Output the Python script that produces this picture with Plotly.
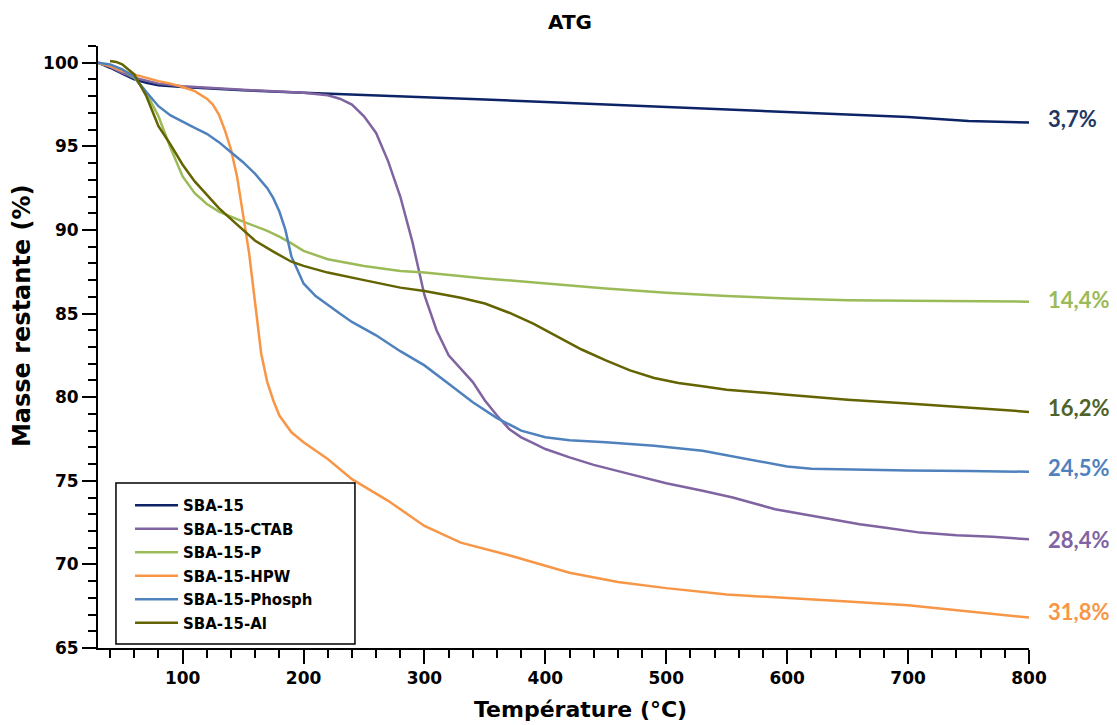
import plotly.graph_objects as go

# ---------------- data ----------------
names = ["SBA-15", "SBA-15-CTAB", "SBA-15-P", "SBA-15-HPW", "SBA-15-Phosph", "SBA-15-Al"]

t_sba15 = [30, 40, 50, 60, 70, 80, 100, 120, 150, 200, 250, 300, 350, 400, 450, 500, 550, 600, 650, 700, 750, 800]
m_sba15 = [100, 99.7, 99.35, 99.0, 98.8, 98.65, 98.55, 98.47, 98.35, 98.2, 98.08, 97.95, 97.8, 97.65, 97.5,
           97.33, 97.18, 97.05, 96.92, 96.75, 96.52, 96.42]

t_ctab = [30, 40, 50, 60, 80, 100, 150, 200, 220, 230, 240, 250, 260, 270, 280, 290, 300, 310, 320, 330, 340, 350,
          360, 370, 380, 390, 400, 420, 440, 470, 500, 530, 555, 590, 620, 660, 680, 710, 740, 770, 800]
m_ctab = [100, 99.75, 99.4, 99.1, 98.75, 98.6, 98.38, 98.2, 98.05, 97.85, 97.5, 96.8, 95.8, 94.1, 92.0, 89.3, 86.1,
          84.0, 82.5, 81.7, 80.9, 79.8, 78.9, 78.1, 77.6, 77.25, 76.9, 76.4, 75.95, 75.4, 74.85, 74.4, 74.0, 73.3,
          72.9, 72.4, 72.2, 71.9, 71.75, 71.65, 71.5]

t_p = [30, 40, 50, 60, 70, 80, 90, 100, 110, 120, 130, 150, 170, 180, 190, 200, 220, 250, 280, 300, 350, 400, 450,
       500, 550, 600, 650, 700, 750, 800]
m_p = [99.95, 99.85, 99.6, 99.1, 98.2, 96.8, 94.9, 93.2, 92.2, 91.55, 91.1, 90.5, 89.95, 89.6, 89.2, 88.75, 88.25,
       87.85, 87.55, 87.45, 87.1, 86.8, 86.5, 86.25, 86.05, 85.9, 85.8, 85.77, 85.73, 85.71]

t_hpw = [30, 40, 50, 60, 70, 80, 90, 100, 110, 120, 125, 130, 135, 140, 145, 150, 155, 160, 165, 170, 175, 180, 190,
         200, 220, 240, 270, 300, 330, 370, 420, 460, 500, 550, 600, 650, 700, 750, 800]
m_hpw = [100, 99.8, 99.5, 99.3, 99.1, 98.9, 98.75, 98.55, 98.3, 97.85, 97.5, 96.9, 95.95, 94.8, 93.2, 90.9, 88.6,
         85.6, 82.6, 80.9, 79.8, 78.9, 77.9, 77.3, 76.3, 75.1, 73.8, 72.3, 71.3, 70.55, 69.5, 68.95, 68.58, 68.2,
         68.0, 67.78, 67.55, 67.18, 66.82]

t_phosph = [30, 40, 50, 60, 70, 80, 90, 100, 110, 120, 130, 140, 150, 160, 170, 175, 180, 185, 190, 195, 200, 210,
            220, 230, 240, 260, 280, 300, 320, 340, 360, 380, 400, 420, 450, 490, 530, 560, 580, 600, 620, 660, 700,
            750, 800]
m_phosph = [100, 99.9, 99.6, 99.15, 98.25, 97.4, 96.85, 96.45, 96.1, 95.75, 95.25, 94.65, 94.05, 93.35, 92.5, 91.9,
            91.1, 90.0, 88.4, 87.6, 86.8, 86.05, 85.5, 85.0, 84.5, 83.7, 82.75, 81.9, 80.8, 79.7, 78.75, 78.0, 77.6,
            77.42, 77.3, 77.1, 76.8, 76.4, 76.1, 75.85, 75.72, 75.65, 75.62, 75.58, 75.54]

t_al = [40, 45, 50, 60, 70, 80, 90, 100, 110, 120, 130, 140, 150, 160, 175, 190, 200, 220, 250, 280, 300, 330, 350,
        370, 390, 410, 430, 450, 470, 490, 510, 530, 550, 600, 650, 700, 750, 800]
m_al = [100.1, 100.05, 99.9, 99.3, 98.0, 96.2, 95.1, 93.9, 92.9, 92.1, 91.3, 90.65, 90.0, 89.35, 88.7, 88.1, 87.85,
        87.45, 87.0, 86.55, 86.35, 85.95, 85.6, 85.05, 84.4, 83.6, 82.85, 82.2, 81.6, 81.15, 80.85, 80.65, 80.45,
        80.15, 79.85, 79.62, 79.38, 79.12]

loss_labels = ["3,7%", "14,4%", "16,2%", "24,5%", "28,4%", "31,8%"]
loss_label_y = [96.69, 85.85, 79.38, 75.78, 71.46, 67.21]
loss_label_colors = ["#1F3864", "#9BBB59", "#4F6228", "#4F81BD", "#8064A2", "#F79646"]

x_ticks = [100, 200, 300, 400, 500, 600, 700, 800]
y_ticks = [65, 70, 75, 80, 85, 90, 95, 100]

series_t = [t_sba15, t_ctab, t_p, t_hpw, t_phosph, t_al]
series_m = [m_sba15, m_ctab, m_p, m_hpw, m_phosph, m_al]
colors = ["#0C2466", "#8064A2", "#9BBB59", "#F79646", "#4F81BD", "#636300"]

# ---------------- figure ----------------
fig = go.Figure()
for i, (n, t, m, c) in enumerate(zip(names, series_t, series_m, colors)):
    fig.add_trace(go.Scatter(x=t, y=m, mode="lines", name=n, legendgroup=n,
                             line=dict(color=c, width=2.5)))

for txt, yv, c in zip(loss_labels, loss_label_y, loss_label_colors):
    fig.add_annotation(x=1.018, xref="paper", y=yv, yref="y", text="<b>" + txt + "</b>",
                       showarrow=False, xanchor="left", yanchor="middle",
                       font=dict(family="Lato", size=22, color=c))

# axis titles
fig.add_annotation(x=-0.0816, xref="paper", y=0.5515, yref="paper", text="<b>Masse restante (%)</b>",
                   textangle=-90, showarrow=False, xanchor="center", yanchor="middle",
                   font=dict(family="DejaVu Sans", size=24, color="black"))
fig.add_annotation(x=0.518, xref="paper", y=-0.102, yref="paper", text="<b>Température (°C)</b>",
                   showarrow=False, xanchor="center", yanchor="middle",
                   font=dict(family="DejaVu Sans", size=22, color="black"))

# legend frame
fig.add_shape(type="rect", xref="paper", yref="paper",
              x0=0.0193, x1=0.276, y0=0.0066, y1=0.274,
              line=dict(color="black", width=1.5), fillcolor="rgba(0,0,0,0)", layer="above")

axis_font = dict(family="DejaVu Sans", size=17, color="black")
fig.update_layout(
    width=1117, height=725,
    margin=dict(l=90, r=96, t=38, b=85),
    paper_bgcolor="white", plot_bgcolor="white",
    title=dict(text="<b>ATG</b>", x=0.507, xref="paper", xanchor="center",
               y=1 - 14 / 725, yref="container", yanchor="middle",
               font=dict(family="DejaVu Sans", size=20, color="black")),
    legend=dict(x=0.0344, y=0.264, xanchor="left", yanchor="top",
                bgcolor="rgba(0,0,0,0)", borderwidth=0, itemwidth=43,
                tracegroupgap=1,
                font=dict(family="DejaVu Sans", size=15, color="black", weight="bold")),
    showlegend=True,
)
fig.update_xaxes(
    range=[30, 800], tickvals=x_ticks, ticktext=["<b>%d</b>" % v for v in x_ticks],
    showline=True, linecolor="black", linewidth=2, showgrid=False, zeroline=False,
    ticks="outside", ticklen=14, tickwidth=2, tickcolor="black", tickfont=axis_font,
    minor=dict(dtick=20, tick0=0, ticks="outside", ticklen=8, tickwidth=2, tickcolor="black", showgrid=False),
)
fig.update_yaxes(
    range=[65, 101], tickvals=y_ticks, ticktext=["<b>%d</b>" % v for v in y_ticks],
    showline=True, linecolor="black", linewidth=2, showgrid=False, zeroline=False,
    ticks="outside", ticklen=14, tickwidth=2, tickcolor="black", tickfont=axis_font,
    minor=dict(dtick=1, tick0=0, ticks="outside", ticklen=8, tickwidth=2, tickcolor="black", showgrid=False),
)

fig.write_html("out.html")
